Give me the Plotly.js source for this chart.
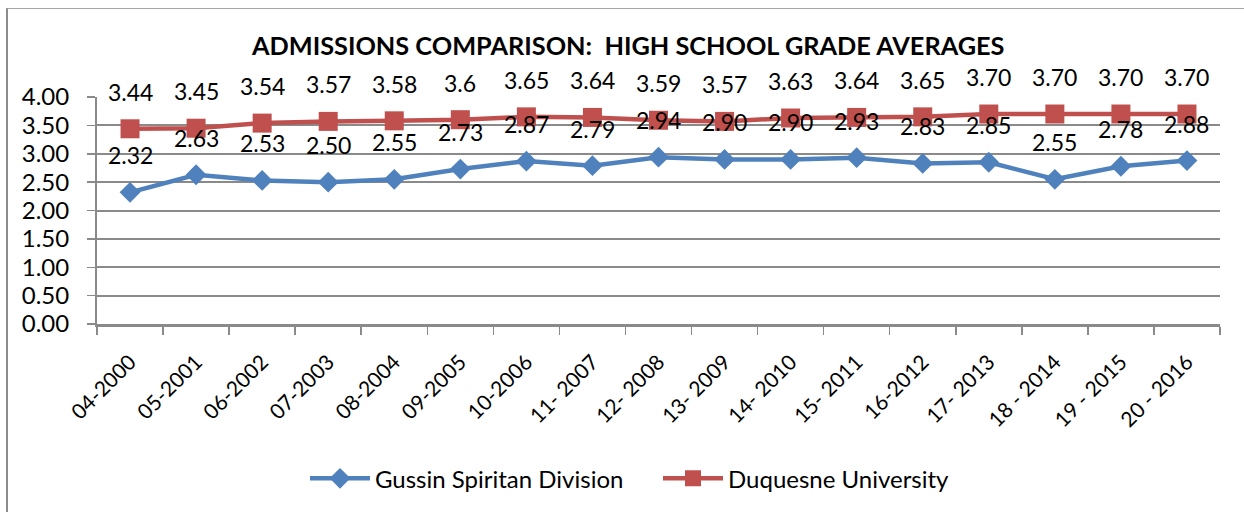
<!DOCTYPE html>
<html>
<head>
<meta charset="utf-8">
<script src="https://cdn.plot.ly/plotly-3.0.1.min.js"></script>
<style>
html,body{margin:0;padding:0;background:#fff;}
#wrap{position:relative;width:1244px;height:512px;overflow:hidden;}
#chart{position:absolute;left:0;top:0;width:1244px;height:512px;}
#frame{position:absolute;left:6px;top:8px;width:1250px;height:520px;border-left:2px solid #8c8c8c;border-top:1px solid #a6a6a6;pointer-events:none;}
</style>
</head>
<body>
<div id="wrap"><div id="chart"></div><div id="frame"></div></div>
<script>
const categories = ["04-2000","05-2001","06-2002","07-2003","08-2004","09-2005","10-2006","11- 2007","12- 2008","13- 2009","14- 2010","15- 2011","16-2012","17- 2013","18 - 2014","19 - 2015","20 - 2016"];
const gussinValues = [2.32,2.63,2.53,2.50,2.55,2.73,2.87,2.79,2.94,2.90,2.90,2.93,2.83,2.85,2.55,2.78,2.88];
const gussinLabels = ["2.32","2.63","2.53","2.50","2.55","2.73","2.87","2.79","2.94","2.90","2.90","2.93","2.83","2.85","2.55","2.78","2.88"];
const duquesneValues = [3.44,3.45,3.54,3.57,3.58,3.6,3.65,3.64,3.59,3.57,3.63,3.64,3.65,3.70,3.70,3.70,3.70];
const duquesneLabels = ["3.44","3.45","3.54","3.57","3.58","3.6","3.65","3.64","3.59","3.57","3.63","3.64","3.65","3.70","3.70","3.70","3.70"];
const seriesNames = ["Gussin Spiritan Division","Duquesne University"];
const titleText = "ADMISSIONS COMPARISON:&nbsp; HIGH SCHOOL GRADE AVERAGES";

const FONT = "Lato, 'Open Sans', sans-serif";
const blue = "#4F81BD", red = "#C0504D", grid = "#8a8a8a";

const traces = [
  {x: categories, y: gussinValues, name: seriesNames[0], type: "scatter", mode: "lines+markers",
   line: {color: blue, width: 4.5}, marker: {symbol: "diamond", size: 16, color: blue}},
  {x: categories, y: duquesneValues, name: seriesNames[1], type: "scatter", mode: "lines+markers",
   line: {color: red, width: 4.5}, marker: {symbol: "square", size: 19, color: red}}
];

const annotations = [];
function addLabels(vals, labels){
  vals.forEach((v,i)=>{
    annotations.push({x: categories[i], y: v, xref: "x", yref: "y", text: labels[i], showarrow: false,
      yshift: 37, font: {family: FONT, size: 23, color: "#000"}});
  });
}
addLabels(gussinValues, gussinLabels);
addLabels(duquesneValues, duquesneLabels);

const layout = {
  width: 1244, height: 512,
  margin: {l: 97, r: 24, t: 97, b: 188, autoexpand: false},
  paper_bgcolor: "rgba(0,0,0,0)", plot_bgcolor: "#fff",
  font: {family: FONT, color: "#000"},
  title: {text: "<b>" + titleText + "</b>", font: {family: FONT, size: 25.3, color: "#000"},
          xref: "container", yref: "container", x: 0.505, xanchor: "center", y: 1 - 46/512, yanchor: "middle"},
  xaxis: {type: "category", range: [-0.5, 16.5], showline: true, linecolor: grid, linewidth: 2.5, ticks: "outside", tickson: "boundaries",
          ticklen: 8, tickcolor: grid, tickwidth: 1.5, tickangle: -45, showgrid: false, zeroline: false,
          ticklabelstandoff: 15,
          tickfont: {family: FONT, size: 21, color: "#000"}, automargin: false, fixedrange: true},
  yaxis: {range: [0, 4], dtick: 0.5, tickformat: ".2f", showline: true, linecolor: grid, linewidth: 2,
          ticks: "outside", ticklen: 8, tickcolor: grid, tickwidth: 1.5, showgrid: true, gridcolor: grid, gridwidth: 2,
          ticklabelstandoff: 13,
          zeroline: false, tickfont: {family: FONT, size: 24, color: "#000"}, automargin: false, fixedrange: true},
  showlegend: true,
  legend: {orientation: "h", x: (305 - 97)/1123, xanchor: "left", y: (323-477)/226, yanchor: "middle",
           font: {family: FONT, size: 24, color: "#000"}, itemwidth: 60, entrywidth: 278, entrywidthmode: "pixels",
           bgcolor: "rgba(0,0,0,0)"},
  annotations: annotations
};

Plotly.newPlot("chart", traces, layout, {displayModeBar: false, staticPlot: true});
</script>
</body>
</html>
